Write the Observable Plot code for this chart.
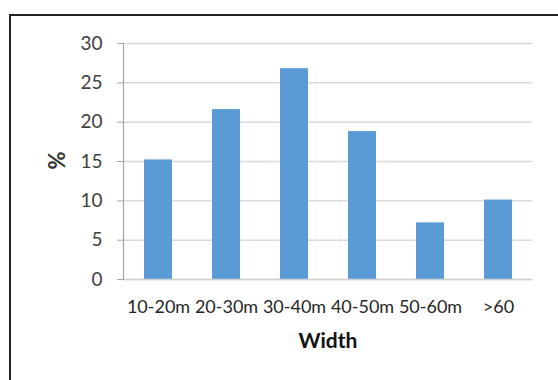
<!DOCTYPE html>
<html>
<head>
<meta charset="utf-8">
<script src="https://cdn.jsdelivr.net/npm/d3@7"></script>
<script src="https://cdn.jsdelivr.net/npm/@observablehq/plot@0.6"></script>
<style>
  html, body { margin: 0; padding: 0; background: #fff; }
  #wrap { position: relative; width: 558px; height: 380px; overflow: hidden; background: #fff; }
  #border { position: absolute; left: 9px; top: 14px; width: 620px; height: 420px;
            border: 2px solid #222; box-sizing: border-box; }
  #chart { position: absolute; left: 0; top: 0; }
  #chart svg { background: transparent; }
</style>
</head>
<body>
<div id="wrap">
  <div id="border"></div>
  <div id="chart"></div>
</div>
<script>
// Share of sites by width class (%)
const widthClasses = ["10-20m", "20-30m", "30-40m", "40-50m", "50-60m", ">60"];
const percentages = [15.2, 21.6, 26.8, 18.8, 7.2, 10.1];
const yTicks = [0, 5, 10, 15, 20, 25, 30];
const xTitle = "Width";
const yTitle = "%";

const rows = widthClasses.map((w, i) => ({ width: w, pct: percentages[i] }));

const font = "Lato, 'Open Sans', sans-serif";

const chart = Plot.plot({
  width: 558,
  height: 380,
  marginLeft: 123,
  marginRight: 26,
  marginTop: 43,
  marginBottom: 101,
  style: { fontFamily: font, background: "transparent", color: "#404040" },
  x: { domain: widthClasses, paddingInner: 0.59, paddingOuter: 0.3 },
  y: { domain: [0, 30] },
  marks: [
    Plot.gridY(yTicks, { stroke: "#d9d9d9", strokeOpacity: 1, strokeWidth: 1.5 }),
    Plot.barY(rows, { x: "width", y: "pct", fill: "#5b9bd5" }),
    Plot.ruleY([0], { stroke: "#d0d0d0", strokeWidth: 1.5 }),
    Plot.frame({ anchor: "left", stroke: "#a6a6a6", strokeWidth: 1.2 }),
    Plot.axisY(yTicks, {
      tickSize: 6, tickPadding: 15, fontSize: 19, fill: "#404040",
      stroke: "#a6a6a6", label: null
    }),
    Plot.axisX({
      tickSize: 0, tickPadding: 21, fontSize: 18, fill: "#262626", label: null
    }),
    Plot.text([xTitle], {
      text: d => d, frameAnchor: "bottom", dy: 68,
      fontSize: 21, fontWeight: "bold", fill: "#111"
    }),
    Plot.text([yTitle], {
      text: d => d, frameAnchor: "left", dx: -66, dy: 8, rotate: -90,
      fontSize: 22, fontWeight: "bold", fill: "#333"
    })
  ]
});

document.getElementById("chart").appendChild(chart);
</script>
</body>
</html>
